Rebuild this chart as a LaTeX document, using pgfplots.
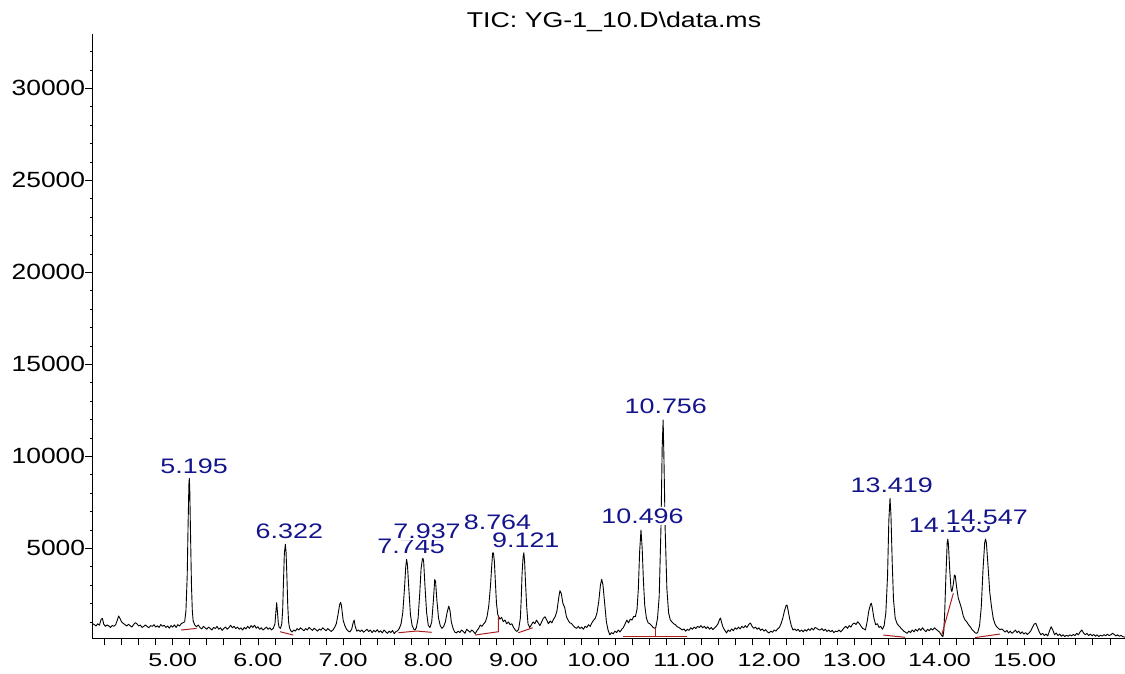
\documentclass[border=0pt]{standalone}
\usepackage{pgfplots}
\usepackage{pgfplotstable}
\pgfplotsset{compat=1.18}
\usepackage{fontspec}
\setmainfont{Liberation Sans}
\usepackage{graphicx}
\definecolor{pkblue}{RGB}{20,20,140}
\definecolor{bred}{RGB}{170,30,30}
\newcommand\sy[1]{\scalebox{1.2}[1]{#1}}
\newcommand\sx[1]{\scalebox{1.35}[1]{#1}}
\newcommand\spk[1]{\scalebox{1.28}[1]{#1}}

\pgfplotstableread{
t v
4.056 920
4.08 850
4.10 780
4.12 900
4.14 820
4.16 1150
4.175 1190
4.19 880
4.21 760
4.23 840
4.25 780
4.27 700
4.29 810
4.31 760
4.33 850
4.35 1100
4.365 1320
4.38 1200
4.40 1000
4.42 920
4.44 850
4.46 780
4.48 870
4.50 800
4.52 720
4.54 850
4.56 960
4.58 900
4.60 780
4.62 830
4.64 700
4.66 760
4.68 840
4.70 750
4.72 680
4.74 800
4.76 760
4.78 850
4.80 720
4.82 790
4.84 700
4.86 860
4.88 760
4.90 820
4.92 700
4.94 780
4.96 660
4.98 800
5.00 720
5.02 840
5.04 700
5.06 850
5.08 780
5.10 900
5.12 960
5.14 1000
5.155 1600
5.17 3500
5.18 6200
5.19 8500
5.195 8805
5.20 8200
5.21 5500
5.22 3000
5.23 1600
5.24 1050
5.26 820
5.28 740
5.30 830
5.32 700
5.34 620
5.36 760
5.38 680
5.40 600
5.42 720
5.44 650
5.46 560
5.48 700
5.50 640
5.52 760
5.54 600
5.56 680
5.58 540
5.60 650
5.62 720
5.64 600
5.66 700
5.68 820
5.70 680
5.72 760
5.74 640
5.76 720
5.78 600
5.80 680
5.82 560
5.84 700
5.86 620
5.88 760
5.90 650
5.92 800
5.94 700
5.96 820
5.98 660
6.00 740
6.02 600
6.04 680
6.06 560
6.08 640
6.10 720
6.12 600
6.14 680
6.16 560
6.18 650
6.20 900
6.21 1500
6.22 2045
6.23 1500
6.24 900
6.25 700
6.265 650
6.28 900
6.29 1600
6.30 3200
6.31 4700
6.322 5218
6.33 4800
6.34 3500
6.35 1900
6.36 1000
6.37 700
6.385 520
6.40 450
6.42 560
6.44 500
6.46 640
6.48 560
6.50 680
6.52 600
6.54 520
6.56 640
6.58 560
6.60 700
6.62 620
6.64 540
6.66 660
6.68 580
6.70 500
6.72 620
6.74 550
6.76 680
6.78 600
6.80 520
6.82 640
6.84 560
6.86 480
6.88 560
6.90 700
6.92 900
6.94 1400
6.96 1950
6.97 2065
6.98 1900
6.99 1500
7.00 1100
7.02 800
7.04 600
7.06 500
7.08 460
7.10 600
7.12 1000
7.13 1100
7.14 800
7.16 500
7.18 560
7.20 480
7.22 560
7.24 440
7.26 520
7.28 600
7.30 480
7.32 560
7.34 420
7.36 540
7.38 460
7.40 580
7.42 440
7.44 520
7.46 400
7.48 560
7.50 460
7.52 380
7.54 500
7.56 420
7.58 540
7.60 360
7.62 480
7.64 520
7.66 650
7.68 900
7.70 1500
7.72 2800
7.735 4000
7.745 4400
7.755 4100
7.77 2900
7.79 1400
7.81 800
7.83 600
7.845 560
7.86 700
7.88 1200
7.90 2600
7.915 3900
7.93 4400
7.937 4457
7.945 4300
7.96 3000
7.98 1500
8.00 800
8.02 700
8.04 1000
8.06 2200
8.075 3300
8.085 3200
8.10 2200
8.12 1200
8.14 800
8.16 650
8.18 750
8.20 1000
8.22 1500
8.24 1864
8.255 1600
8.27 1000
8.29 650
8.31 450
8.33 400
8.35 500
8.37 420
8.39 560
8.41 480
8.43 380
8.45 600
8.47 520
8.49 440
8.51 560
8.53 480
8.55 360
8.57 520
8.59 650
8.61 830
8.63 760
8.65 900
8.67 1000
8.69 1300
8.71 1900
8.73 3000
8.745 4100
8.755 4750
8.764 4750
8.775 4300
8.79 2900
8.80 2000
8.815 1400
8.825 1300
8.84 1150
8.86 1250
8.88 1010
8.90 1100
8.92 900
8.94 1000
8.96 850
8.98 900
9.00 700
9.02 560
9.04 480
9.06 600
9.08 1200
9.09 2200
9.10 3600
9.112 4500
9.121 4760
9.13 4300
9.14 3200
9.155 1800
9.17 900
9.19 700
9.21 850
9.23 1000
9.25 900
9.27 1100
9.29 950
9.31 800
9.33 1000
9.35 1200
9.37 1280
9.39 1100
9.41 900
9.43 1050
9.45 950
9.47 1150
9.49 1300
9.51 1600
9.53 2300
9.545 2700
9.56 2550
9.58 2000
9.60 1800
9.62 1300
9.64 1100
9.66 950
9.68 920
9.70 800
9.72 700
9.74 650
9.76 760
9.78 640
9.80 720
9.82 600
9.84 760
9.86 700
9.88 850
9.90 760
9.92 950
9.94 1100
9.96 1200
9.98 1500
10.00 2100
10.02 3000
10.035 3315
10.05 3000
10.07 2000
10.09 1000
10.11 550
10.13 300
10.15 420
10.17 350
10.19 500
10.21 420
10.23 560
10.25 450
10.27 600
10.29 700
10.31 900
10.33 1100
10.35 950
10.37 1150
10.39 1100
10.41 1300
10.43 1283
10.45 1700
10.465 2800
10.48 4800
10.496 5995
10.51 5000
10.525 3200
10.54 1900
10.56 1200
10.58 950
10.60 900
10.62 800
10.64 700
10.655 650
10.67 700
10.69 1200
10.71 2400
10.73 6000
10.745 10500
10.756 11973
10.765 10000
10.78 6000
10.80 2800
10.82 1500
10.84 1100
10.86 1000
10.88 900
10.90 850
10.92 740
10.94 700
10.96 640
10.98 560
11.00 620
11.02 500
11.04 600
11.06 540
11.08 680
11.10 600
11.12 720
11.14 640
11.16 760
11.18 700
11.20 800
11.22 680
11.24 760
11.26 640
11.28 740
11.30 600
11.32 700
11.34 580
11.36 680
11.38 760
11.40 900
11.42 1150
11.43 1210
11.44 1000
11.46 700
11.48 540
11.50 400
11.52 560
11.54 480
11.56 620
11.58 520
11.60 680
11.62 600
11.64 720
11.66 620
11.68 760
11.70 680
11.72 800
11.74 700
11.76 860
11.78 940
11.80 760
11.82 650
11.84 720
11.86 600
11.88 680
11.90 540
11.92 620
11.94 500
11.96 580
11.98 460
12.00 400
12.02 500
12.04 440
12.06 560
12.08 500
12.10 620
12.12 700
12.14 900
12.16 1200
12.18 1600
12.20 1900
12.21 1918
12.22 1700
12.24 1200
12.26 800
12.28 560
12.30 620
12.32 520
12.34 600
12.36 480
12.38 560
12.40 460
12.42 580
12.44 500
12.46 620
12.48 540
12.50 660
12.52 560
12.54 700
12.56 650
12.58 580
12.60 560
12.62 640
12.64 520
12.66 600
12.68 480
12.70 560
12.72 460
12.74 540
12.76 420
12.78 500
12.80 470
12.82 560
12.84 460
12.86 560
12.88 680
12.90 760
12.92 650
12.94 800
12.96 720
12.98 880
13.00 940
13.02 860
13.04 1010
13.06 900
13.08 760
13.10 640
13.12 600
13.13 560
13.15 1000
13.17 1600
13.19 1950
13.20 2010
13.21 1800
13.23 1200
13.25 850
13.27 900
13.29 700
13.31 760
13.33 600
13.35 800
13.37 1500
13.39 3500
13.405 6500
13.419 7717
13.43 6800
13.445 4200
13.46 2200
13.48 1200
13.50 924
13.52 800
13.54 700
13.56 600
13.58 500
13.60 440
13.62 380
13.64 500
13.66 420
13.68 560
13.70 460
13.72 600
13.74 500
13.76 640
13.78 540
13.80 680
13.82 560
13.84 470
13.86 600
13.88 520
13.90 640
13.92 560
13.94 680
13.96 600
13.98 520
14.00 450
14.02 300
14.04 196
14.05 500
14.06 1400
14.075 3500
14.09 5300
14.097 5505
14.105 5200
14.12 3800
14.135 2800
14.145 2641
14.16 3000
14.175 3549
14.185 3500
14.20 2900
14.22 2300
14.24 2011
14.26 1700
14.28 1300
14.30 1103
14.32 1000
14.34 850
14.36 740
14.38 600
14.40 500
14.42 400
14.437 380
14.45 450
14.47 800
14.49 1800
14.51 3800
14.53 5300
14.54 5505
14.55 5300
14.57 4000
14.59 2600
14.61 1826
14.63 1200
14.65 900
14.67 740
14.69 650
14.71 580
14.73 620
14.745 560
14.77 450
14.79 540
14.81 400
14.83 500
14.85 380
14.87 460
14.89 560
14.91 420
14.93 500
14.95 360
14.97 460
14.99 340
15.01 420
15.03 320
15.05 400
15.07 500
15.09 700
15.11 880
15.13 924
15.15 700
15.17 460
15.19 300
15.21 380
15.23 260
15.25 340
15.27 240
15.29 500
15.31 740
15.33 560
15.35 300
15.37 400
15.39 260
15.41 340
15.43 220
15.45 300
15.47 200
15.49 280
15.51 220
15.53 300
15.55 240
15.57 320
15.59 260
15.61 380
15.63 300
15.65 460
15.67 560
15.69 400
15.71 300
15.73 380
15.75 260
15.77 340
15.79 240
15.81 320
15.83 220
15.85 300
15.87 200
15.89 280
15.91 230
15.93 310
15.95 250
15.97 330
15.99 260
16.01 300
16.03 380
16.05 320
16.07 240
16.09 300
16.11 220
16.13 270
16.15 200
16.177 170
}\tic

\begin{document}
\begin{tikzpicture}
\useasboundingbox (-92.3pt,-34.7pt) rectangle (1032.7pt,638.3pt);
\begin{axis}[
  at={(0pt,0pt)}, anchor=south west,
  scale only axis, width=1032.7pt, height=604pt,
  xmin=4.056, xmax=16.177, ymin=110, ymax=32936,
  scaled y ticks=false, scaled x ticks=false,
  axis x line=bottom, axis y line=left,
  axis line style={-, line width=0.8pt, black},
  tick align=outside,
  major tick length=7pt, minor tick length=2.5pt,
  tick style={line width=0.8pt, black},
  xtick={5,6,...,15},
  xticklabels={\sx{5.00},\sx{6.00},\sx{7.00},\sx{8.00},\sx{9.00},\sx{10.00},\sx{11.00},\sx{12.00},\sx{13.00},\sx{14.00},\sx{15.00}},
  extra x ticks={4.2,4.4,...,16.0},
  extra x tick labels={},
  ytick={5000,10000,15000,20000,25000,30000},
  yticklabels={\sy{5000},\sy{10000},\sy{15000},\sy{20000},\sy{25000},\sy{30000}},
  minor ytick={1000,2000,...,33000},
  xticklabel style={font=\fontsize{18.6}{18.6}\selectfont, inner sep=0pt, anchor=north, yshift=-8pt},
  yticklabel style={font=\fontsize{22}{22}\selectfont, inner sep=0pt, anchor=east, xshift=0pt},
]
\addplot[black, line width=0.9pt, line join=round] table[x=t, y=v] {\tic};

\addplot[bred, line width=1pt] coordinates {(5.10,560) (5.28,650)};
\addplot[bred, line width=1pt] coordinates {(6.26,467) (6.415,288)};
\addplot[bred, line width=1pt] coordinates {(7.648,413) (7.864,505) (8.04,435)};
\addplot[bred, line width=1pt] coordinates {(8.548,288) (8.822,467) (8.822,1283)};
\addplot[bred, line width=1pt] coordinates {(9.056,413) (9.225,685)};
\addplot[bred, line width=1pt] coordinates {(10.289,234) (11.033,234)};
\addplot[bred, line width=1pt] coordinates {(10.662,234) (10.662,650)};
\addplot[bred, line width=1pt] coordinates {(13.34,288) (13.595,163)};
\addplot[bred, line width=1pt] coordinates {(14.026,288) (14.162,2554)};
\addplot[bred, line width=1pt] coordinates {(14.417,150) (14.71,343)};

\begin{scope}[every node/.style={text=pkblue, fill=white, inner sep=1.2pt, font=\fontsize{21}{21}\selectfont}]
\node at (axis cs:5.251,9473) {\spk{5.195}};
\node at (axis cs:6.369,5902) {\spk{6.322}};
\node at (axis cs:7.798,5125) {\spk{7.745}};
\node at (axis cs:7.985,5902) {\spk{7.937}};
\node at (axis cs:8.812,6402) {\spk{8.764}};
\node at (axis cs:9.144,5451) {\spk{9.121}};
\node at (axis cs:10.514,6756) {\spk{10.496}};
\node at (axis cs:10.787,12696) {\spk{10.756}};
\node at (axis cs:13.439,8440) {\spk{13.419}};
\node at (axis cs:14.123,6267) {\spk{14.105}};
\node at (axis cs:14.554,6674) {\spk{14.547}};
\end{scope}
\end{axis}
\node[font=\fontsize{21.4}{21.4}\selectfont, inner sep=0pt] at (521.7pt,616.6pt) {\scalebox{1.25}[1]{TIC: YG-1\_10.D\textbackslash data.ms}};
\end{tikzpicture}
\end{document}
